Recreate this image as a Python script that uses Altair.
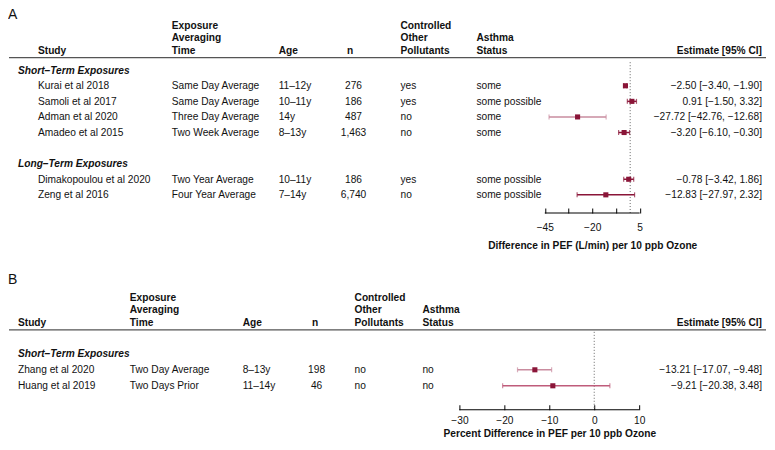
import altair as alt
import pandas as pd

# ---------------- data: panel A ----------------
a_group = ["Short–Term Exposures"] * 4 + ["Long–Term Exposures"] * 2
a_study = ["Kurai et al 2018", "Samoli et al 2017", "Adman et al 2020",
           "Amadeo et al 2015", "Dimakopoulou et al 2020", "Zeng et al 2016"]
a_exposure = ["Same Day Average", "Same Day Average", "Three Day Average",
              "Two Week Average", "Two Year Average", "Four Year Average"]
a_age = ["11–12y", "10–11y", "14y", "8–13y", "10–11y", "7–14y"]
a_n = [276, 186, 487, 1463, 186, 6740]
a_controlled = ["yes", "yes", "no", "no", "yes", "no"]
a_asthma = ["some", "some possible", "some", "some", "some possible", "some possible"]
a_est = [-2.50, 0.91, -27.72, -3.20, -0.78, -12.83]
a_lo = [-3.40, -1.50, -42.76, -6.10, -3.42, -27.97]
a_hi = [-1.90, 3.32, -12.68, -0.30, 1.86, 2.32]
a_shade = ["dark", "dark", "light", "dark", "dark", "dark"]
a_ticks = [-45, -32.5, -20, -7.5, 5]
a_labeled = [-45, -20, 5]
a_title = "Difference in PEF (L/min) per 10 ppb Ozone"

# ---------------- data: panel B ----------------
b_group = ["Short–Term Exposures"] * 2
b_study = ["Zhang et al 2020", "Huang et al 2019"]
b_exposure = ["Two Day Average", "Two Days Prior"]
b_age = ["8–13y", "11–14y"]
b_n = [198, 46]
b_controlled = ["no", "no"]
b_asthma = ["no", "no"]
b_est = [-13.21, -9.21]
b_lo = [-17.07, -20.38]
b_hi = [-9.48, 3.48]
b_shade = ["light", "medium"]
b_ticks = [-30, -20, -10, 0, 10]
b_labeled = [-30, -20, -10, 0, 10]
b_title = "Percent Difference in PEF per 10 ppb Ozone"

headers = ["Study", "Exposure\nAveraging\nTime", "Age", "n",
           "Controlled\nOther\nPollutants", "Asthma\nStatus", "Estimate [95% CI]"]

# ---------------- style / layout ----------------
FONT = "Liberation Sans"
TXT = "#111111"
SQ = "#8a1538"
SHADES = ["dark", "medium", "light"]
SHADE_COLORS = ["#8a1538", "#bf5c7b", "#c98c9f"]
W = 759
FS = 10.2
LH = 12.4
TEXT_DY = 0.5


def fmt_num(v):
    return f"{v:.2f}".replace("-", "−")


def build_panel(letter, group, study, exposure, age, n, controlled, asthma,
                est, lo, hi, shade, ticks, labeled, title, lay):
    rows, grows, gnames = [], [], []
    r = 0
    prev = None
    for g in group:
        if g != prev:
            if prev is not None:
                r += 1
            grows.append(r)
            gnames.append(g)
            r += 1
            prev = g
        rows.append(r)
        r += 1

    df = pd.DataFrame({
        "row": rows, "study": study, "exposure": exposure, "age": age,
        "n": [f"{v:,}" for v in n], "controlled": controlled, "asthma": asthma,
        "est": est, "lo": lo, "hi": hi, "shade": shade,
        "estimate": [f"{fmt_num(e)} [{fmt_num(l)}, {fmt_num(h)}]" for e, l, h in zip(est, lo, hi)],
    })
    gdf = pd.DataFrame({"row": grows, "text": gnames})

    H, top, row0, step = lay["H"], lay["top"], lay["row0"], lay["step"]
    to_row = lambda page_y: (page_y - row0) / step
    r_top = to_row(top)
    r_bot = to_row(top + H)
    ys = alt.Scale(domain=[r_top, r_bot], reverse=True, nice=False, zero=False)
    xs = alt.Scale(domain=[ticks[0], ticks[-1]], range=lay["xrange"], nice=False, zero=False)
    Y = lambda f="row": alt.Y(f"{f}:Q", scale=ys, axis=None)

    lab_cond = " || ".join(f"datum.value == {t}" for t in ticks if t not in labeled)
    label_expr = f"({lab_cond}) ? '' : datum.label" if lab_cond else "datum.label"

    axis = alt.Axis(values=ticks, title=title, domain=False, grid=False,
                    tickSize=5, tickColor="#000000", tickWidth=1, offset=-5,
                    labelPadding=lay["labelPad"], labelFontSize=FS, labelFont=FONT,
                    labelColor=TXT, labelFlush=False, labelOverlap=False,
                    labelExpr=label_expr, titleFont=FONT, titleFontSize=FS,
                    titleFontWeight="bold", titleColor=TXT, titlePadding=lay["titlePad"])
    X = lambda f: alt.X(f"{f}:Q", scale=xs, axis=axis)

    color = alt.Color("shade:N", scale=alt.Scale(domain=SHADES, range=SHADE_COLORS), legend=None)

    layers = []
    zdf = pd.DataFrame({"x": [0], "r1": [to_row(lay["zero_start"])], "r2": [r_bot]})
    layers.append(alt.Chart(zdf).mark_rule(color="#666666", strokeDash=[1, 2], strokeWidth=1).encode(
        x=X("x"), y=Y("r1"), y2="r2"))
    adf = pd.DataFrame({"x1": [ticks[0]], "x2": [ticks[-1]], "row": [r_bot]})
    layers.append(alt.Chart(adf).mark_rule(color="#000000", strokeWidth=1).encode(
        x=X("x1"), x2="x2", y=Y()))
    layers.append(alt.Chart(df).mark_rule(strokeWidth=1.5).encode(
        x=X("lo"), x2="hi", y=Y(), color=color))
    for f in ("lo", "hi"):
        layers.append(alt.Chart(df).mark_tick(orient="vertical", size=5, thickness=1.2).encode(
            x=X(f), y=Y(), color=color))
    layers.append(alt.Chart(df).mark_square(size=26, color=SQ, opacity=1).encode(
        x=X("est"), y=Y()))

    ldf = pd.DataFrame({"row": [to_row(lay["letter_y"])], "text": [letter]})
    layers.append(alt.Chart(ldf).mark_text(align="left", baseline=lay["letter_base"], font=FONT,
                                           fontSize=14, color=TXT).encode(
        x=alt.value(0), y=Y(), text="text:N"))

    for h, (x, al) in zip(headers, lay["hx"]):
        nl = h.count("\n")
        hd = pd.DataFrame({"row": [to_row(lay["hbottom"])], "text": [h]})
        layers.append(alt.Chart(hd).mark_text(align=al, baseline="bottom", lineBreak="\n",
                                              lineHeight=LH, dy=-nl * LH, font=FONT, fontSize=FS,
                                              fontWeight="bold", color=TXT).encode(
            x=alt.value(x), y=Y(), text="text:N"))

    layers.append(alt.Chart(gdf).mark_text(align="left", baseline="middle", font=FONT, fontSize=FS,
                                           dy=TEXT_DY, fontWeight="bold", fontStyle="italic",
                                           color=TXT).encode(
        x=alt.value(lay["gx"]), y=Y(), text="text:N"))

    for field, (x, al) in zip(["study", "exposure", "age", "n", "controlled", "asthma", "estimate"],
                              lay["cx"]):
        layers.append(alt.Chart(df).mark_text(align=al, baseline="middle", font=FONT, fontSize=FS,
                                              dy=TEXT_DY, color=TXT).encode(
            x=alt.value(x), y=Y(), text=f"{field}:N"))

    # rule under the column titles, drawn last
    hl = pd.DataFrame({"row": [to_row(lay["hline"])], "tag": [letter + "-rule"]})
    layers.append(alt.Chart(hl).mark_rule(color="#555555", strokeWidth=1.3).encode(
        x=alt.value(1), x2=alt.value(W), y=Y()))

    return alt.layer(*layers).properties(width=W, height=H)


lay_a = dict(H=205, top=8, row0=70, step=15.6, xrange=[537.5, 632.5], labelPad=10, titlePad=7,
             zero_start=62, hline=57.5, hbottom=55.5, letter_y=8, letter_base="top", gx=10,
             hx=[(30, "left"), (164, "left"), (271, "left"), (342.5, "center"),
                 (393, "left"), (469, "left"), (755, "right")],
             cx=[(30, "left"), (164, "left"), (271, "left"), (346, "center"),
                 (393, "left"), (469, "left"), (755, "right")])

SHIFT_B = 6          # panel B moved up a little so the page fits in 450px
SPACING = 62
FLUSH_FIX = 3
top_b = 8 + 205 + SPACING
lay_b = dict(H=(413 - SHIFT_B) - top_b, top=top_b, row0=357 - SHIFT_B, step=16.0,
             xrange=[452, 632], labelPad=6, titlePad=3,
             zero_start=335 - SHIFT_B, hline=333 - SHIFT_B, hbottom=331 - SHIFT_B,
             letter_y=283 - SHIFT_B, letter_base="middle", gx=10,
             hx=[(10, "left"), (122, "left"), (235, "left"), (307.5, "center"),
                 (347, "left"), (415, "left"), (755, "right")],
             cx=[(10, "left"), (122, "left"), (235, "left"), (309, "center"),
                 (347, "left"), (415, "left"), (755, "right")])

panel_a = build_panel("A", a_group, a_study, a_exposure, a_age, a_n, a_controlled, a_asthma,
                      a_est, a_lo, a_hi, a_shade, a_ticks, a_labeled, a_title, lay_a)
panel_b = build_panel("B", b_group, b_study, b_exposure, b_age, b_n, b_controlled, b_asthma,
                      b_est, b_lo, b_hi, b_shade, b_ticks, b_labeled, b_title, lay_b)

chart = alt.vconcat(panel_a, panel_b, spacing=SPACING + FLUSH_FIX, bounds="flush").properties(
    padding=0).configure_view(stroke=None)

chart.save("out.html", embed_options={"renderer": "svg", "actions": False})
